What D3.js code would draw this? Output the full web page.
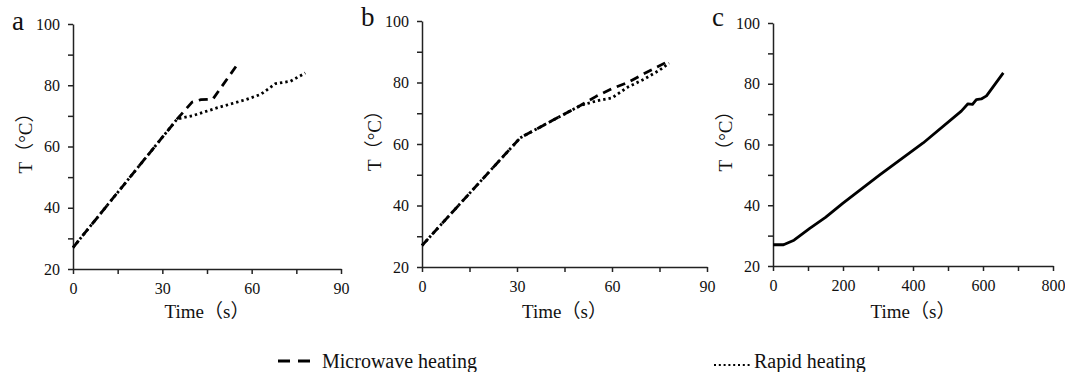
<!DOCTYPE html>
<html lang="en">
<head>
  <meta charset="UTF-8">
  <title>Heating curves</title>
  <style>
    body { margin: 0; background: #fff; }
    svg text { font-family: "Liberation Serif", "Times New Roman", "Noto Sans CJK SC", serif; fill: #111; }
  </style>
</head>
<body>
  <svg id="svg" width="1065" height="372"></svg>

  <script src="https://d3js.org/d3.v7.min.js"></script>
  <script>
    // panel a
    const aMicroTime = [0, 35, 40, 43, 47, 55]
    const aMicroTemp = [27, 69, 74.5, 75.3, 75.5, 86.5]
    const aRapidTime = [0, 35, 40, 48, 58, 63, 68, 73, 78]
    const aRapidTemp = [27, 69, 70, 72.5, 75.3, 77, 80.5, 81.3, 84]

    // panel b
    const bMicroTime = [0, 31, 40, 50, 55, 60, 65, 70, 77]
    const bMicroTemp = [27, 62, 67, 72.5, 75.5, 78, 80, 82.8, 86.5]
    const bRapidTime = [0, 31, 40, 50, 55, 60, 65, 70, 75, 78]
    const bRapidTemp = [27, 62, 67, 72.5, 74, 75, 78.5, 81, 84, 86.3]

    // panel c
    const cTime = [0, 30, 60, 105, 150, 200, 305, 429, 538, 557, 570, 581, 595, 610, 658]
    const cTemp = [27, 27, 28.5, 32.4, 36, 40.7, 50, 60.5, 71, 73.4, 73.2, 74.8, 75, 76, 83.6]

    const yTicks = [20, 30, 40, 50, 60, 70, 80, 90, 100]
    const yLabels = [20, 40, 60, 80, 100]
    const panelLetters = ['a', 'b', 'c']
    const legendNames = ['Microwave heating', 'Rapid heating']

    const zip = (xs, ys) => xs.map((t, i) => [t, ys[i]])

    const panels = [
      { letter: panelLetters[0], left: 73, right: 341, top: 24, bottom: 269, xMax: 90, xStep: 15, xLabelStep: 30, letterY: 30,
        series: [{ pts: zip(aMicroTime, aMicroTemp), dash: '9,6' }, { pts: zip(aRapidTime, aRapidTemp), dash: '2.4,3' }] },
      { letter: panelLetters[1], left: 422, right: 707, top: 21, bottom: 267, xMax: 90, xStep: 15, xLabelStep: 30, letterY: 26,
        series: [{ pts: zip(bMicroTime, bMicroTemp), dash: '9,6' }, { pts: zip(bRapidTime, bRapidTemp), dash: '2.4,3' }] },
      { letter: panelLetters[2], left: 773, right: 1053, top: 23, bottom: 266, xMax: 800, xStep: 100, xLabelStep: 200, letterY: 26,
        series: [{ pts: zip(cTime, cTemp), dash: null }] }
    ]

    const svg = d3.select('#svg')

    panels.forEach(p => {
      const xScale = d3.scaleLinear().domain([0, p.xMax]).range([p.left, p.right])
      const yScale = d3.scaleLinear().domain([20, 100]).range([p.bottom, p.top])

      const g = svg.append('g')

      // x axis, minor ticks unlabeled
      const xAxis = d3.axisBottom(xScale)
        .tickValues(d3.range(0, p.xMax + 1, p.xStep))
        .tickFormat(d => d % p.xLabelStep === 0 ? d : '')
        .tickSize(5)
        .tickSizeOuter(0)
        .tickPadding(9)
      g.append('g')
        .attr('transform', `translate(0,${p.bottom})`)
        .call(xAxis)

      // y axis
      const yAxis = d3.axisLeft(yScale)
        .tickValues(yTicks)
        .tickFormat(d => yLabels.includes(d) ? d : '')
        .tickSize(5)
        .tickSizeOuter(0)
        .tickPadding(8)
      g.append('g')
        .attr('transform', `translate(${p.left},0)`)
        .call(yAxis)

      g.selectAll('g').attr('font-family', null).attr('font-size', null)
      g.selectAll('.domain, .tick line').attr('stroke', '#222').attr('stroke-width', 1.5)
      g.selectAll('.tick text')
        .style('font-family', '"Liberation Serif", "Times New Roman", serif')
        .style('font-size', '16px')

      // curves
      const line = d3.line().x(d => xScale(d[0])).y(d => yScale(d[1]))
      p.series.forEach(s => {
        g.append('path')
          .attr('d', line(s.pts))
          .attr('fill', 'none')
          .attr('stroke', '#000')
          .attr('stroke-width', 2.8)
          .attr('stroke-dasharray', s.dash)
          .attr('stroke-linejoin', 'round')
      })

      // titles
      g.append('text')
        .attr('x', (p.left + p.right) / 2)
        .attr('y', 318)
        .attr('text-anchor', 'middle')
        .style('font-size', '19px')
        .text('Time（s）')

      g.append('text')
        .attr('transform', `translate(${p.left - 41},${(p.top + p.bottom) / 2 - 8}) rotate(-90)`)
        .attr('text-anchor', 'middle')
        .style('font-size', '19px')
        .text('T（°C）')

      g.append('text')
        .attr('x', p.left - 61)
        .attr('y', p.letterY)
        .style('font-size', '27px')
        .text(p.letter)
    })

    // legend
    const legend = svg.append('g')
    legend.append('line')
      .attr('x1', 278).attr('x2', 313).attr('y1', 361).attr('y2', 361)
      .attr('stroke', '#000').attr('stroke-width', 3).attr('stroke-dasharray', '12,8')
    legend.append('text')
      .attr('x', 322).attr('y', 368)
      .style('font-size', '20px')
      .text(legendNames[0])
    legend.append('line')
      .attr('x1', 714).attr('x2', 752).attr('y1', 365).attr('y2', 365)
      .attr('stroke', '#000').attr('stroke-width', 2).attr('stroke-dasharray', '2,2.8')
    legend.append('text')
      .attr('x', 754).attr('y', 368)
      .style('font-size', '20px')
      .text(legendNames[1])
  </script>
</body>
</html>
